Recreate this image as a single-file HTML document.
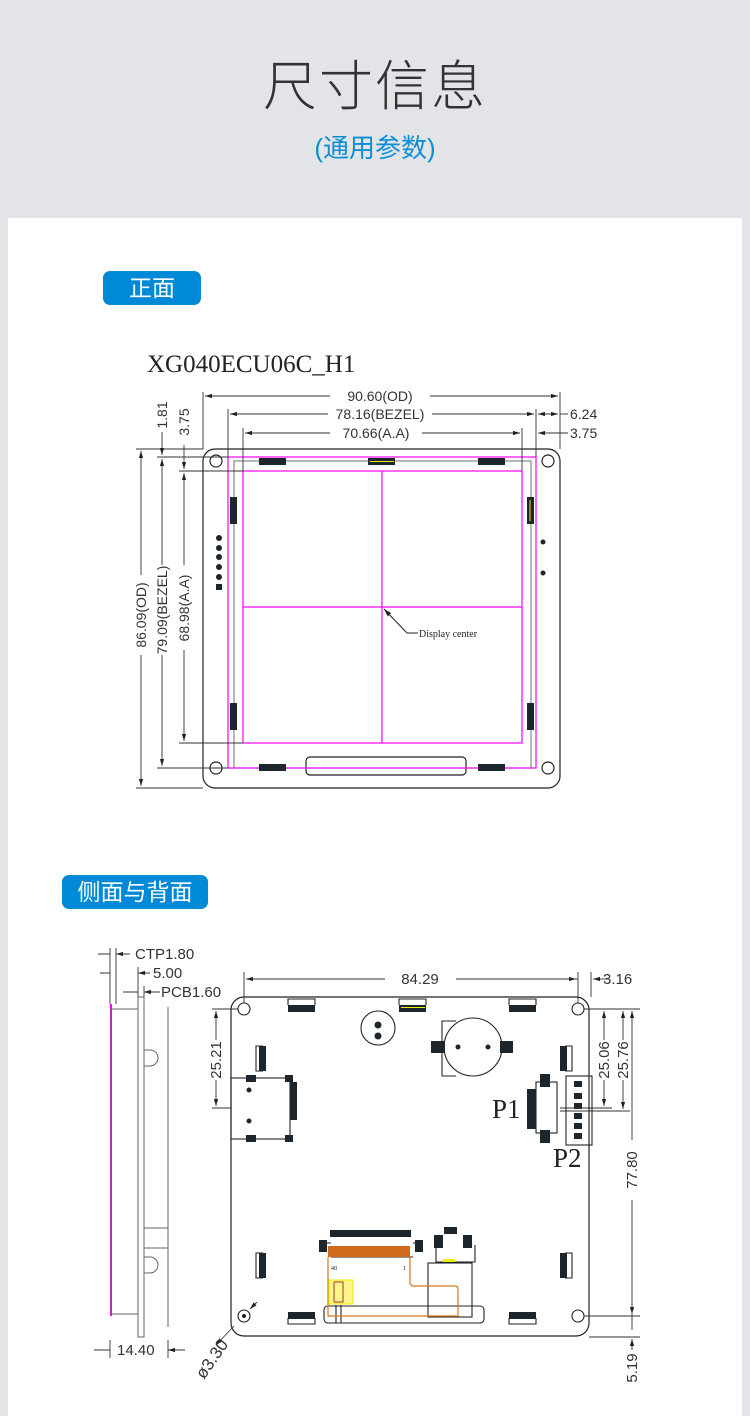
<!DOCTYPE html>
<html><head><meta charset="utf-8"><style>
html,body{margin:0;padding:0;}
body{width:750px;height:1416px;background:#e2e4e8;position:relative;overflow:hidden;font-family:"Liberation Sans","Noto Sans CJK SC",sans-serif;}
.card{position:absolute;left:8px;top:218px;width:734px;height:1198px;background:#fff;}
.t1{position:absolute;left:0;width:750px;top:52px;text-align:center;font-size:54px;color:#333;line-height:70px;letter-spacing:2px;font-weight:300;}
.t2{position:absolute;left:0;width:750px;top:130px;text-align:center;font-size:26px;color:#0a8fd6;line-height:36px;}
.badge{position:absolute;background:#0089d6;color:#fff;border-radius:7px;text-align:center;font-size:23px;line-height:34px;height:34px;}
svg{position:absolute;left:0;top:0;}
</style></head><body>
<div class="t1">尺寸信息</div>
<div class="t2">(通用参数)</div>
<div class="card"></div>
<div class="badge" style="left:103px;top:271px;width:98px;">正面</div>
<div class="badge" style="left:62px;top:875px;width:146px;">侧面与背面</div>
<svg width="750" height="1416" viewBox="0 0 750 1416" font-family="Liberation Sans, sans-serif" fill="none">
<defs>
<marker id="a" viewBox="0 0 10 10" refX="10" refY="5" markerWidth="8" markerHeight="8" orient="auto-start-reverse"><path d="M0,2 L10,5 L0,8z" fill="#222"/></marker>
</defs>
<text x="147" y="372" font-family="Liberation Serif, serif" font-size="25" fill="#222">XG040ECU06C_H1</text>
<!-- front board -->
<g stroke="#222" stroke-width="1.2">
<rect x="203" y="449" width="357" height="339" rx="12"/>
<circle cx="216" cy="461" r="6"/><circle cx="548" cy="461" r="6"/>
<circle cx="216" cy="768" r="6"/><circle cx="548" cy="768" r="6"/>
<rect x="306" y="757" width="160" height="18" rx="4"/>
</g>
<rect x="234" y="461" width="297" height="307" stroke="#888" stroke-width="1.2"/>
<rect x="228" y="457" width="308" height="311" stroke="#f0f" stroke-width="1.2"/>
<rect x="243" y="471" width="279" height="272" stroke="#f0f" stroke-width="1.2"/>
<path d="M382,471V743M243,607H522" stroke="#f0f" stroke-width="1.2"/>
<g fill="#1c262c">
<rect x="259" y="458" width="27" height="7"/><rect x="368" y="458" width="27" height="7"/><rect x="478" y="458" width="27" height="7"/>
<rect x="259" y="764" width="27" height="7"/><rect x="478" y="764" width="27" height="7"/>
<rect x="230" y="497" width="7" height="27"/><rect x="230" y="703" width="7" height="27"/>
<rect x="527" y="497" width="7" height="27"/><rect x="527" y="703" width="7" height="27"/>
<circle cx="219" cy="538" r="3"/><circle cx="219" cy="548" r="3"/><circle cx="219" cy="557" r="3"/><circle cx="219" cy="567" r="3"/><circle cx="219" cy="577" r="3"/>
<rect x="216" y="584" width="6" height="6"/>
<circle cx="543" cy="542" r="2.5"/><circle cx="543" cy="573" r="2.5"/>
</g>
<path d="M370,461.5H394M530,500V521" stroke="#ee0" stroke-width="1"/>
<path d="M407,633L384,609" stroke="#222" marker-end="url(#a)"/>
<path d="M407,633H418" stroke="#222"/>
<text x="419" y="637" font-family="Liberation Serif, serif" font-size="10" fill="#222">Display center</text>
<!-- front dims -->
<g stroke="#333" stroke-width="0.9">
<path d="M203,392V449M560,392V449M228,409V457M536,409V457M243,428V471M522,428V471"/>
<path d="M205,396H330M430,396H558" marker-start="url(#a)" marker-end="url(#a)"/>
<path d="M230,414H328M432,414H534" marker-start="url(#a)" marker-end="url(#a)"/>
<path d="M245,433H330M422,433H520" marker-start="url(#a)" marker-end="url(#a)"/>
<path d="M538,414H558" marker-start="url(#a)" marker-end="url(#a)"/><path d="M560,414H568"/>
<path d="M548,433H538" marker-end="url(#a)"/><path d="M548,433H568"/>
<path d="M136,449H203M157,457H228M179,471H243M179,743H243M157,768H228M136,788H203"/>
<path d="M141,451V575M141,655V786" marker-start="url(#a)" marker-end="url(#a)"/>
<path d="M162,459V565M162,655V766" marker-start="url(#a)" marker-end="url(#a)"/>
<path d="M184,473V565M184,650V741" marker-start="url(#a)" marker-end="url(#a)"/>
<path d="M162,432V455" marker-end="url(#a)"/><path d="M184,445V469" marker-end="url(#a)"/>
</g>
<g font-size="14" fill="#333">
<text x="380" y="401" text-anchor="middle">90.60(OD)</text>
<text x="380" y="419" text-anchor="middle">78.16(BEZEL)</text>
<text x="376" y="438" text-anchor="middle">70.66(A.A)</text>
<text x="570" y="419">6.24</text>
<text x="570" y="438">3.75</text>
<text transform="translate(146,615) rotate(-90)" text-anchor="middle">86.09(OD)</text>
<text transform="translate(167,610) rotate(-90)" text-anchor="middle">79.09(BEZEL)</text>
<text transform="translate(189,608) rotate(-90)" text-anchor="middle">68.98(A.A)</text>
<text transform="translate(167,415) rotate(-90)" text-anchor="middle">1.81</text>
<text transform="translate(189,422) rotate(-90)" text-anchor="middle">3.75</text>
</g>
<!-- side view -->
<path d="M111,1004V1316" stroke="#f0f" stroke-width="2"/>
<g stroke="#666" stroke-width="1">
<rect x="111" y="1009" width="27" height="305"/>
<rect x="138" y="997" width="6" height="340"/>
<path d="M168,1007V1327M144,1228H168M144,1248H168"/>
<path d="M144,1050h6a3,3 0 0 1 0,16h-6M144,1257h6a3,3 0 0 1 0,16h-6"/>
</g>
<g stroke="#333" stroke-width="0.9">
<path d="M110,948V1004M116,948V1004M110,967V1004M138,967V997M144,986V997M110,1340V1358M168,1340V1358"/>
<path d="M98,954H110M128,954H116" marker-end="url(#a)"/><path d="M116,954H130"/>
<path d="M100,973H110M150,973H138" marker-end="url(#a)"/>
<path d="M123,992H138M160,992H144" marker-end="url(#a)"/>
<path d="M94,1350H110M185,1350H168" marker-end="url(#a)"/>
</g>
<g font-size="15" fill="#333">
<text x="135" y="959">CTP1.80</text>
<text x="153" y="978">5.00</text>
<text x="161" y="997">PCB1.60</text>
<text x="117" y="1355">14.40</text>
</g>
<!-- back board -->
<rect x="231" y="997" width="358" height="339" rx="13" stroke="#222" stroke-width="1.2"/>
<g stroke="#222" stroke-width="1.1">
<circle cx="244" cy="1009" r="6"/><circle cx="578" cy="1009" r="6"/>
<circle cx="244" cy="1316" r="6"/><circle cx="578" cy="1316" r="6"/>
<circle cx="378" cy="1028" r="17"/>
<circle cx="473" cy="1047" r="29"/>
<path d="M456,1021H442V1076H456"/>
<rect x="231" y="1078" width="59" height="61"/>
<rect x="536" y="1082" width="21" height="51"/>
<rect x="566" y="1076" width="26" height="69"/>
<rect x="324" y="1306" width="160" height="17" rx="4"/>
<rect x="428" y="1263" width="44" height="54"/>
<path d="M321,1243H331M413,1243H422M436,1245V1262H475V1245"/>
<path d="M288,1005V999H315V1005M399,1005V999H426V1005M509,1005V999H536V1005"/>
<path d="M288,1318V1324H315V1318M509,1318V1324H536V1318"/>
<path d="M263,1046H256V1071H263M263,1253H256V1278H263M565,1046H572V1071H565M565,1253H572V1278H565"/>
<path d="M331,1257H413M336,1305V1323M341,1305V1323"/>
</g>
<g fill="#1c262c">
<rect x="288" y="1005" width="27" height="7"/><rect x="399" y="1005" width="27" height="7"/><rect x="509" y="1005" width="27" height="7"/>
<rect x="288" y="1312" width="27" height="7"/><rect x="509" y="1312" width="27" height="7"/>
<rect x="259" y="1046" width="7" height="25"/><rect x="259" y="1253" width="7" height="25"/>
<rect x="560" y="1046" width="7" height="25"/><rect x="560" y="1253" width="7" height="25"/>
<circle cx="378" cy="1025" r="3.5"/><circle cx="378" cy="1036" r="3.5"/>
<circle cx="458" cy="1047" r="2.5"/><circle cx="488" cy="1047" r="2.5"/>
<rect x="431" y="1041" width="14" height="12"/><rect x="500" y="1041" width="13" height="12"/>
<rect x="246" y="1075" width="10" height="7"/><rect x="285" y="1075" width="8" height="7"/>
<rect x="246" y="1135" width="10" height="7"/><rect x="285" y="1135" width="8" height="7"/>
<circle cx="249" cy="1090" r="2.5"/><circle cx="249" cy="1121" r="2.5"/>
<rect x="290" y="1082" width="7" height="38"/>
<rect x="527" y="1089" width="9" height="40"/>
<rect x="540" y="1074" width="10" height="13"/><rect x="540" y="1130" width="10" height="13"/>
<rect x="574" y="1081" width="8" height="6"/><rect x="574" y="1093" width="8" height="6"/><rect x="574" y="1103" width="8" height="6"/><rect x="574" y="1113" width="8" height="6"/><rect x="574" y="1123" width="8" height="6"/><rect x="574" y="1133" width="8" height="6"/>
<rect x="330" y="1230" width="81" height="7"/>
<rect x="319" y="1240" width="8" height="12"/><rect x="415" y="1240" width="8" height="12"/>
<rect x="434" y="1235" width="9" height="13"/><rect x="463" y="1235" width="9" height="13"/>
<rect x="444" y="1227" width="13" height="7"/>
</g>
<path d="M401,1007.5H425" stroke="#ee0"/>
<rect x="328" y="1246" width="82" height="11" fill="#cf6a1c"/>
<path d="M328,1257V1316H458V1289Q458,1286 455,1286H414Q410,1286 410,1282V1257" stroke="#d9741f" stroke-width="1.2"/>
<rect x="329" y="1280" width="24" height="24" fill="#fff58a" stroke="#ee0"/>
<rect x="334" y="1282" width="9" height="20" stroke="#a33" stroke-width="1"/>
<rect x="443" y="1259" width="12" height="3" fill="#ee0"/>
<g font-family="Liberation Serif, serif" font-size="6" fill="#222">
<text x="331" y="1270">40</text><text x="403" y="1270">1</text>
</g>
<g font-family="Liberation Serif, serif" font-size="27" fill="#222">
<text x="492" y="1118">P1</text><text x="553" y="1167">P2</text>
</g>
<!-- back dims -->
<g stroke="#333" stroke-width="0.9">
<path d="M244,972V1003M578,972V1003M591,972V997"/>
<path d="M246,979H385M456,979H576" marker-start="url(#a)" marker-end="url(#a)"/>
<path d="M608,979H593" marker-end="url(#a)"/><path d="M578,979H570" />
<path d="M212,1009H238M212,1108H231"/>
<path d="M216,1011V1040M216,1080V1106" marker-start="url(#a)" marker-end="url(#a)"/>
<path d="M584,1009H640M560,1108H612M560,1111H630M584,1316H640M589,1337H640"/>
<path d="M604,1011V1040M604,1080V1106" marker-start="url(#a)" marker-end="url(#a)"/>
<path d="M623,1011V1040M623,1080V1109" marker-start="url(#a)" marker-end="url(#a)"/>
<path d="M632,1011V1140M632,1200V1314" marker-start="url(#a)" marker-end="url(#a)"/>
<path d="M632,1339V1350" marker-start="url(#a)"/><path d="M632,1330V1314"/>
<path d="M234,1326L216,1345" marker-end="url(#a)"/><path d="M257,1302L250,1309" marker-end="url(#a)"/>
</g>
<circle cx="244" cy="1316" r="2" fill="#222"/>
<g font-size="15" fill="#333">
<text x="420" y="984" text-anchor="middle">84.29</text>
<text x="603" y="984">3.16</text>
<text transform="translate(221,1060) rotate(-90)" text-anchor="middle">25.21</text>
<text transform="translate(609,1060) rotate(-90)" text-anchor="middle">25.06</text>
<text transform="translate(628,1060) rotate(-90)" text-anchor="middle">25.76</text>
<text transform="translate(637,1170) rotate(-90)" text-anchor="middle">77.80</text>
<text transform="translate(637,1368) rotate(-90)" text-anchor="middle">5.19</text>
<text transform="translate(204,1380) rotate(-55)" font-size="17">ø3.30</text>
</g>
</svg>
</body></html>
